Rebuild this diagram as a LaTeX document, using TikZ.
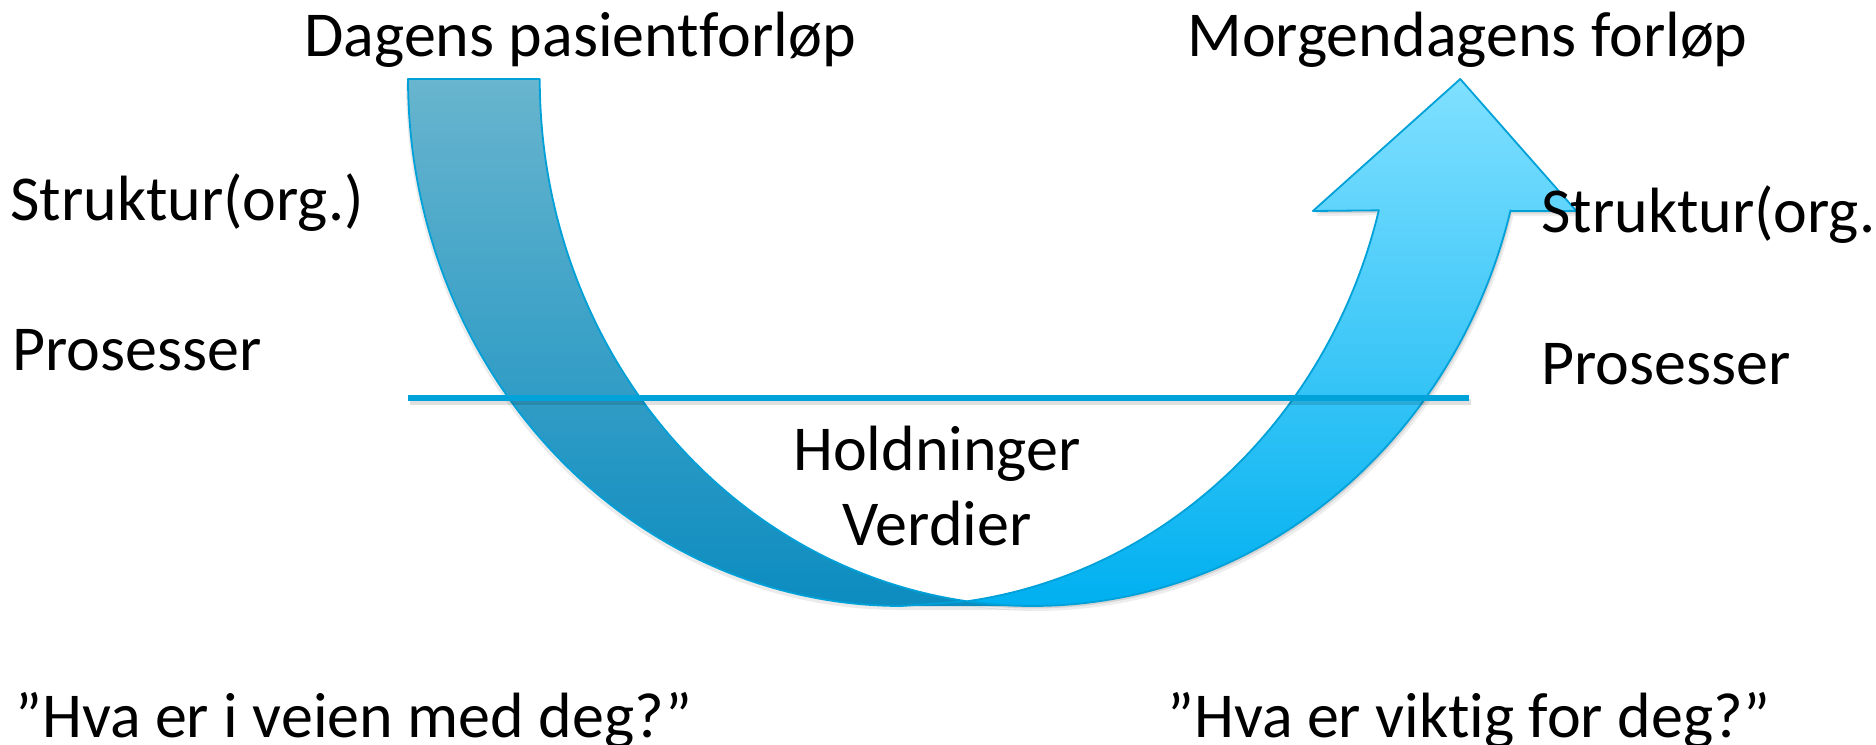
\documentclass[tikz,border=0pt]{standalone}
\usepackage{fontspec}
\setmainfont{Carlito}[Ligatures={NoCommon}]
\definecolor{lighttop}{RGB}{128,224,255}
\definecolor{lightbot}{RGB}{0,176,240}
\definecolor{darktop}{RGB}{104,181,206}
\definecolor{darkbot}{RGB}{12,140,192}
\definecolor{edgeblue}{RGB}{0,160,216}
\definecolor{ruleblue}{RGB}{0,162,218}
\tikzset{
  lbl/.style={font=\fontsize{32pt}{38pt}\selectfont, inner sep=0pt, text=black},
  softshadow/.style={
    preaction={fill=black, opacity=0.07, transform canvas={shift={(3,5)}}},
    preaction={fill=black, opacity=0.10, transform canvas={shift={(1.5,2.5)}}}},
  lightband/.style={softshadow, top color=lighttop, bottom color=lightbot},
  darkband/.style={top color=darktop, bottom color=darkbot},
  outline/.style={draw=edgeblue, line width=0.9pt, line join=round},
  rulestyle/.style={draw=ruleblue, line width=2.8pt},
  ruleshadow/.style={draw=black, opacity=0.12, line width=2.8pt},
}
\begin{document}
\begin{tikzpicture}[x=0.5pt,y=-0.5pt]
\path[use as bounding box] (0,0) rectangle (1876,745);
\clip (0,0) rectangle (1876,745);
\fill[white] (0,0) rectangle (1876,745);

% light (front) part of the curved up arrow
\path[lightband] (1460.25,79) -- (1576.4,211) -- (1510.5,211)
  -- plot[domain=14.43:97.68,samples=90,variable=\t] ({1032.95+493.2*cos(\t)},{79+527*sin(\t)})
  -- plot[domain=14.43:82.32,samples=90,variable=\t] ({901.2+493.2*cos(96.75-\t)},{79+527*sin(96.75-\t)})
  -- (1312.9,211) -- cycle;

% shadow of the back band on the white ground
\path[fill=black, opacity=0.08, transform canvas={shift={(-2,4)}}]
  plot[domain=90:180,samples=90,variable=\t] ({901.2+493.2*cos(\t)},{79+527*sin(\t)})
  -- (539.75,79)
  -- plot[domain=90:180,samples=90,variable=\t] ({1032.95+493.2*cos(270-\t)},{79+527*sin(270-\t)})
  -- cycle;

% darker (back) band
\path[darkband]
  plot[domain=90:180,samples=90,variable=\t] ({901.2+493.2*cos(\t)},{79+527*sin(\t)})
  -- (539.75,79)
  -- plot[domain=90:180,samples=90,variable=\t] ({1032.95+493.2*cos(270-\t)},{79+527*sin(270-\t)})
  -- cycle;

% outline of the whole arrow
\path[outline]
  plot[domain=14.43:82.32,samples=90,variable=\t] ({901.2+493.2*cos(96.75-\t)},{79+527*sin(96.75-\t)})
  -- (1312.9,211) -- (1460.25,79) -- (1576.4,211) -- (1510.5,211)
  -- plot[domain=14.43:97.68,samples=90,variable=\t] ({1032.95+493.2*cos(\t)},{79+527*sin(\t)})
  -- (901.2,606)
  -- plot[domain=90:180,samples=90,variable=\t] ({901.2+493.2*cos(\t)},{79+527*sin(\t)})
  -- (539.75,79)
  -- plot[domain=90:180,samples=90,variable=\t] ({1032.95+493.2*cos(270-\t)},{79+527*sin(270-\t)});

% horizontal rule
\coordinate (lineL) at (408,398);
\coordinate (lineR) at (1469,398);
\draw[ruleshadow, transform canvas={shift={(1.5,4)}}] (lineL) -- (lineR);
\draw[rulestyle] (lineL) -- (lineR);

% texts
\node[lbl, anchor=base west] (dagens) at (304,56) {Dagens pasient\kern0ptforløp};
\node[lbl, anchor=base west] (morgen) at (1187,56) {Morgendagens forløp};
\node[lbl, anchor=base west] (strukL) at (10,220) {Struktur(org.)};
\node[lbl, anchor=base west] (prosL) at (12,370) {Prosesser};
\node[lbl, anchor=base west] (strukR) at (1541,232) {Struktur(org.};
\node[lbl, anchor=base west] (prosR) at (1541,384) {Prosesser};
\node[lbl, anchor=base] (hold) at (937,470) {Holdninger};
\node[lbl, anchor=base] (verd) at (937,545) {Verdier};
\node[lbl, anchor=base west] (hva1) at (15,737) {”Hva er i veien med deg?”};
\node[lbl, anchor=base west] (hva2) at (1167,737) {”Hva er viktig for deg?”};
\end{tikzpicture}
\end{document}
